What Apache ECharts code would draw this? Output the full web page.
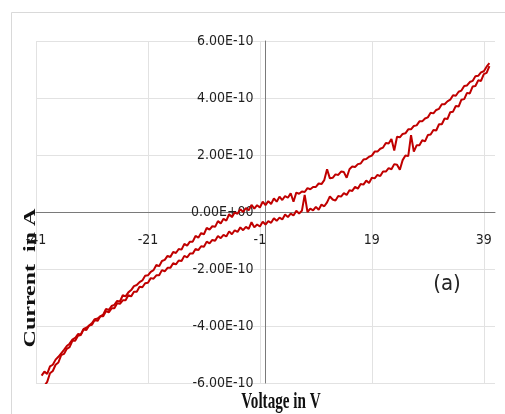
<!DOCTYPE html>
<html>
<head>
<meta charset="utf-8">
<script src="https://cdn.jsdelivr.net/npm/echarts@6/dist/echarts.min.js"></script>
<style>
html,body{margin:0;padding:0;background:#fff;}
#chart{width:505px;height:414px;}
</style>
</head>
<body>
<div id="chart"></div>
<script>
// Voltage in V (sweep points)
const voltage = [
-40,-39.5,-39,-38.5,-38,-37.5,-37,-36.5,-36,-35.5,-35,-34.5,-34,-33.5,-33,-32.5,-32,-31.5,-31,-30.5,
-30,-29.5,-29,-28.5,-28,-27.5,-27,-26.5,-26,-25.5,-25,-24.5,-24,-23.5,-23,-22.5,-22,-21.5,-21,-20.5,
-20,-19.5,-19,-18.5,-18,-17.5,-17,-16.5,-16,-15.5,-15,-14.5,-14,-13.5,-13,-12.5,-12,-11.5,-11,-10.5,
-10,-9.5,-9,-8.5,-8,-7.5,-7,-6.5,-6,-5.5,-5,-4.5,-4,-3.5,-3,-2.5,-2,-1.5,-1,-0.5,
0,0.5,1,1.5,2,2.5,3,3.5,4,4.5,5,5.5,6,6.5,7,7.5,8,8.5,9,9.5,
10,10.5,11,11.5,12,12.5,13,13.5,14,14.5,15,15.5,16,16.5,17,17.5,18,18.5,19,19.5,
20,20.5,21,21.5,22,22.5,23,23.5,24,24.5,25,25.5,26,26.5,27,27.5,28,28.5,29,29.5,
30,30.5,31,31.5,32,32.5,33,33.5,34,34.5,35,35.5,36,36.5,37,37.5,38,38.5,39,39.5,40
];
// Current in units of 1e-10 A, upper branch of the loop
const upperBranch = [
-5.74,-5.60,-5.68,-5.42,-5.36,-5.18,-5.08,-4.96,-4.84,-4.70,-4.62,-4.48,-4.42,-4.28,-4.30,-4.10,-4.06,-3.98,-3.90,-3.76,
-3.74,-3.66,-3.60,-3.40,-3.44,-3.30,-3.26,-3.12,-3.14,-2.92,-2.96,-2.82,-2.74,-2.60,-2.56,-2.46,-2.40,-2.24,-2.22,-2.10,
-2.04,-1.86,-1.90,-1.72,-1.68,-1.54,-1.58,-1.40,-1.44,-1.30,-1.32,-1.12,-1.18,-1.04,-1.04,-0.84,-0.90,-0.74,-0.78,-0.56,
-0.62,-0.50,-0.52,-0.32,-0.40,-0.24,-0.30,-0.08,-0.18,-0.02,-0.06,0.10,0.00,0.14,0.06,0.25,0.12,0.24,0.16,0.36,
0.24,0.38,0.28,0.48,0.36,0.54,0.42,0.56,0.50,0.66,0.36,0.68,0.64,0.72,0.70,0.84,0.80,0.88,0.88,1.00,
0.98,1.12,1.50,1.18,1.20,1.32,1.30,1.42,1.40,1.20,1.50,1.60,1.58,1.68,1.70,1.84,1.86,1.94,1.98,2.12,
2.12,2.22,2.26,2.42,2.40,2.56,2.16,2.64,2.62,2.74,2.76,2.90,2.90,3.02,3.04,3.18,3.18,3.28,3.32,3.48,
3.46,3.58,3.62,3.78,3.78,3.88,3.94,4.10,4.08,4.22,4.26,4.42,4.44,4.56,4.60,4.76,4.78,4.90,4.94,5.10,5.22
];
// Current in units of 1e-10 A, lower branch of the loop
const lowerBranch = [
-6.35,-6.10,-5.96,-5.66,-5.58,-5.36,-5.28,-5.02,-4.98,-4.80,-4.74,-4.52,-4.52,-4.34,-4.32,-4.12,-4.14,-3.98,-3.96,-3.78,
-3.82,-3.66,-3.66,-3.48,-3.52,-3.38,-3.38,-3.20,-3.22,-3.10,-3.10,-2.92,-2.96,-2.80,-2.80,-2.62,-2.64,-2.50,-2.48,-2.32,
-2.34,-2.22,-2.22,-2.04,-2.08,-1.96,-1.96,-1.80,-1.84,-1.70,-1.72,-1.54,-1.59,-1.46,-1.46,-1.30,-1.34,-1.20,-1.22,-1.04,
-1.10,-0.98,-1.01,-0.84,-0.92,-0.80,-0.86,-0.68,-0.78,-0.64,-0.70,-0.54,-0.64,-0.52,-0.59,-0.36,-0.54,-0.44,-0.51,-0.34,
-0.44,-0.32,-0.38,-0.22,-0.31,-0.20,-0.26,-0.09,-0.18,-0.06,-0.12,0.04,-0.05,0.04,0.60,0.00,0.12,0.06,0.18,0.08,
0.26,0.20,0.34,0.55,0.44,0.40,0.56,0.54,0.66,0.60,0.76,0.74,0.88,0.82,0.98,0.96,1.10,1.02,1.20,1.18,
1.30,1.26,1.42,1.42,1.54,1.50,1.68,1.66,1.48,1.82,1.98,1.96,2.70,2.12,2.34,2.34,2.52,2.48,2.70,2.72,
2.88,2.86,3.08,3.08,3.28,3.26,3.50,3.52,3.72,3.70,3.94,3.96,4.18,4.16,4.40,4.42,4.62,4.60,4.84,4.88,5.12
];
const xTickStart = -41, xTickEnd = 41, xTickStep = 20;
const yTickStart = -6, yTickEnd = 6, yTickStep = 2;

const labelFont = '"Liberation Sans Narrow", "Arial Narrow", "DejaVu Sans Condensed", sans-serif';
const titleFont = '"Liberation Serif", "Times New Roman", serif';

function fmtY(v) {
  if (v === 0) return '0.00E+00';
  return (v < 0 ? '-' : '') + Math.abs(v).toFixed(2) + 'E-10';
}

const chart = echarts.init(document.getElementById('chart'), null, {renderer: 'canvas'});
chart.setOption({
  animation: false,
  backgroundColor: '#ffffff',
  grid: {left: 36, right: 10, top: 41, bottom: 31, containLabel: false, outerBoundsMode: 'none'},
  xAxis: {
    type: 'value', min: xTickStart, max: xTickEnd, interval: xTickStep,
    axisLine: {onZero: false, lineStyle: {color: '#7a7a7a', width: 1}},
    axisTick: {show: false},
    axisLabel: {margin: 21, fontSize: 14, color: '#1f1f1f', fontFamily: labelFont, showMaxLabel: false},
    splitLine: {show: true, showMaxLine: false, lineStyle: {color: '#e2e2e2', width: 1}}
  },
  yAxis: {
    type: 'value', min: yTickStart, max: yTickEnd, interval: yTickStep,
    axisLine: {onZero: false, lineStyle: {color: '#7a7a7a', width: 1}},
    axisTick: {show: false},
    axisLabel: {margin: 12, fontSize: 14, color: '#1f1f1f', fontFamily: labelFont, formatter: fmtY},
    splitLine: {show: true, lineStyle: {color: '#e2e2e2', width: 1}}
  },
  series: [
    {type: 'line', data: voltage.map((v, i) => [v, upperBranch[i]]), showSymbol: false, clip: true,
     lineStyle: {color: '#c00000', width: 2}, itemStyle: {color: '#c00000'}},
    {type: 'line', data: voltage.map((v, i) => [v, lowerBranch[i]]), showSymbol: false, clip: true,
     lineStyle: {color: '#c00000', width: 2}, itemStyle: {color: '#c00000'}}
  ],
  graphic: [
    {type: 'rect', shape: {x: 11.5, y: 12.5, width: 520, height: 420}, style: {fill: 'none', stroke: '#d9d9d9', lineWidth: 1}, silent: true, z: -1},
    {type: 'text', x: 281, y: 402, scaleX: 0.66,
     style: {text: 'Voltage in V', font: 'bold 23px ' + titleFont, fill: '#111', align: 'center', verticalAlign: 'middle'}},
    {type: 'text', x: 30.5, y: 278, rotation: Math.PI / 2, scaleY: 0.7,
     style: {text: 'Current  in A', font: 'bold 24px ' + titleFont, fill: '#111', align: 'center', verticalAlign: 'middle'}},
    {type: 'text', x: 447, y: 284,
     style: {text: '(a)', font: '22px ' + labelFont, fill: '#262626', align: 'center', verticalAlign: 'middle'}}
  ]
});

// Move both axes (line + labels) so they cross at the data origin, like the original.
const origin = chart.convertToPixel({gridIndex: 0}, [0, 0]);
const corner = chart.convertToPixel({gridIndex: 0}, [xTickStart, yTickStart]);
chart.setOption({
  xAxis: {offset: -(corner[1] - origin[1])},
  yAxis: {offset: -(origin[0] - corner[0])}
});
</script>
</body>
</html>
